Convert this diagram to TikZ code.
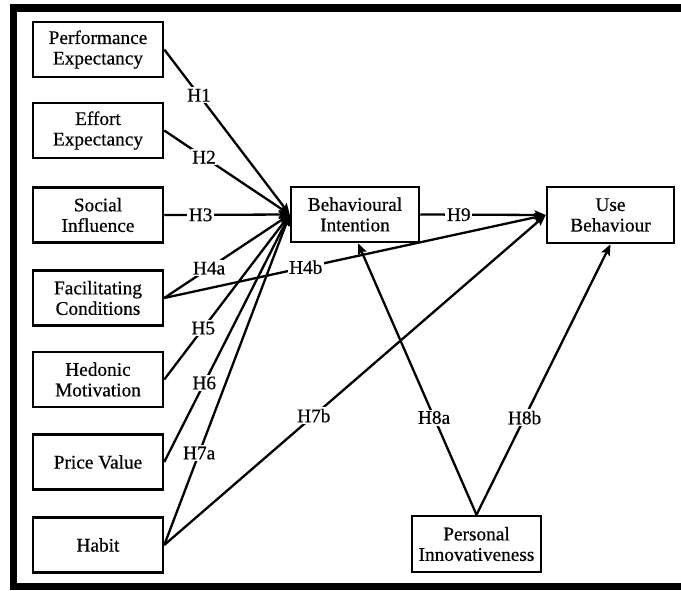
\documentclass[tikz,border=0pt]{standalone}
\usepackage{fontspec}
\setmainfont[FakeBold=0.5]{Liberation Serif}
\usetikzlibrary{arrows.meta}
\begin{document}
\begin{tikzpicture}[x=1pt,y=-1pt,
  box/.style={draw, line width=2.5pt, minimum width=130pt, minimum height=55pt, align=center, inner sep=0pt, font=\fontsize{19.3}{20.5}\selectfont},
  conn/.style={line width=2.3pt, -{Stealth[length=11pt,width=9pt,inset=2pt]}},
  lbl/.style={fill=white, inner sep=1.5pt, font=\fontsize{19.3}{20.5}\selectfont}]
\useasboundingbox (0,0) rectangle (681,590);
\fill[white] (0,0) rectangle (681,590);
\fill[black] (10,4) rectangle (681,12);
\fill[black] (10,4) rectangle (17,590);
\fill[black] (10,583) rectangle (681,590);

\node[box] (pe) at (98,49.5) {Performance\\Expectancy};
\node[box] (ee) at (98,130.5) {Effort\\Expectancy};
\node[box] (si) at (98,215) {Social\\Influence};
\node[box] (fc) at (98,298) {Facilitating\\Conditions};
\node[box] (hm) at (98,379.5) {Hedonic\\Motivation};
\node[box] (pv) at (98,462) {Price Value};
\node[box] (hb) at (98,545) {Habit};
\node[box, minimum width=128pt] (bi) at (355,214.5) {Behavioural\\Intention};
\node[box, minimum width=127pt, minimum height=56pt] (ub) at (610.5,215) {Use\\Behaviour};
\node[box, minimum width=129pt, minimum height=56pt] (pi) at (476.5,544) {Personal\\Innovativeness};

\draw[conn] (pe.east) -- node[lbl,pos=0.277]{H1} (bi.west);
\draw[conn] (ee.east) -- node[lbl,pos=0.317]{H2} (bi.west);
\draw[conn] (si.east) -- node[lbl,pos=0.29]{H3} (bi.west);
\draw[conn] (fc.east) -- node[lbl,pos=0.357]{H4a} (bi.west);
\draw[conn] (hm.east) -- node[lbl,pos=0.311]{H5} (bi.west);
\draw[conn] (pv.east) -- node[lbl,pos=0.319]{H6} (bi.west);
\draw[conn] (hb.east) -- node[lbl,pos=0.278]{H7a} (bi.west);
\draw[conn] (fc.east) -- node[lbl,pos=0.371]{H4b} (ub.west);
\draw[conn] (hb.east) -- node[lbl,pos=0.392]{H7b} (ub.west);
\draw[conn] (bi.east) -- node[lbl,pos=0.307]{H9} (ub.west);
\draw[conn] (pi.north) -- node[lbl,pos=0.358]{H8a} ([xshift=3pt]bi.south);
\draw[conn] (pi.north) -- node[lbl,pos=0.359]{H8b} (ub.south);
\end{tikzpicture}
\end{document}
